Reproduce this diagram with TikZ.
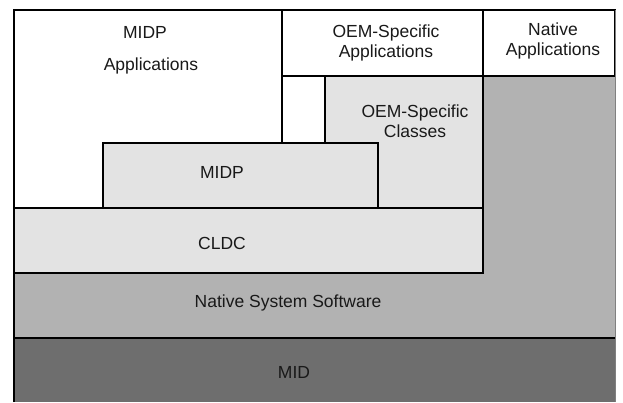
\documentclass[tikz,border=0pt]{standalone}
\usepackage{fontspec}
\setmainfont{Liberation Sans}
\definecolor{lightfill}{HTML}{E3E3E3}
\definecolor{nativefill}{HTML}{B2B2B2}
\definecolor{midfill}{HTML}{6E6E6E}
\begin{document}
\begin{tikzpicture}[x=1pt,y=-1pt,
  layer/.style={draw=black,line width=1.6pt},
  lbl/.style={font=\fontsize{17.5}{20.5}\selectfont,text=black!90,align=center,inner sep=0pt}]
\useasboundingbox (0,0) rectangle (623,402);
\fill[white] (0,0) rectangle (623,402);
% MID
\fill[midfill] (14,338) rectangle (615,402);
% Native system software (L-shape)
\fill[nativefill] (14,273) -- (483,273) -- (483,76) -- (615,76) -- (615,338) -- (14,338) -- cycle;
\draw[layer] (14,338) -- (615,338);
% CLDC
\draw[layer,fill=lightfill] (14,208) rectangle (483,273);
% MIDP Applications
\draw[layer,fill=white] (14,10) rectangle (282,208);
% OEM-specific applications / native applications
\draw[layer,fill=white] (282,10) rectangle (483,76);
\draw[layer,fill=white] (483,10) rectangle (615,76);
% OEM-specific classes
\draw[layer,fill=lightfill] (325,76) rectangle (483,208);
% MIDP
\draw[layer,fill=lightfill] (103,143) rectangle (378,208);
% outer frame
\draw[layer] (14,402) -- (14,10);
\draw[gray,line width=1pt] (615.5,10) -- (615.5,402);
% labels
\node[lbl] (midpapp1) at (145,32) {MIDP};
\node[lbl] (midpapp2) at (151,66) {Applications};
\node[lbl] (oemapp) at (386,43) {OEM-Specific\\Applications};
\node[lbl] (natapp) at (553,41) {Native\\Applications};
\node[lbl] (oemcls) at (415,121) {OEM-Specific\\Classes};
\node[lbl] (midp) at (222,172) {MIDP};
\node[lbl] (cldc) at (222,243) {CLDC};
\node[lbl] (nss) at (288,303) {Native System Software};
\node[lbl] (mid) at (294,372) {MID};
\end{tikzpicture}
\end{document}
